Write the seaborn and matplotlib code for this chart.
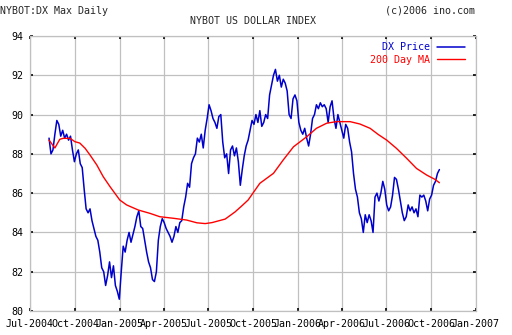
import numpy as np
import pandas as pd
import matplotlib
matplotlib.use("Agg")
import matplotlib.pyplot as plt
import matplotlib.dates as mdates
import seaborn as sns

# ---- data ----
price_start = "2004-08-09"
price = [
    88.8, 88.0, 88.2, 89.0, 89.7, 89.5, 88.9, 89.2, 88.8, 89.0,
    88.7, 88.9, 88.2, 87.6, 88.0, 88.2, 87.5, 87.3, 86.2, 85.2,
    85.0, 85.2, 84.6, 84.2, 83.8, 83.6, 83.0, 82.2, 82.0, 81.3,
    81.8, 82.5, 81.7, 82.3, 81.3, 81.0, 80.6, 82.0, 83.3, 83.0,
    83.6, 84.0, 83.5, 83.9, 84.3, 84.8, 85.1, 84.3, 84.2, 83.6,
    83.0, 82.5, 82.2, 81.6, 81.5, 82.0, 83.6, 84.3, 84.7, 84.5,
    84.2, 84.0, 83.8, 83.5, 83.8, 84.3, 84.0, 84.5, 84.6, 85.3,
    85.8, 86.5, 86.3, 87.5, 87.8, 88.0, 88.8, 88.6, 89.0, 88.3,
    89.2, 89.8, 90.5, 90.2, 89.8, 89.6, 89.3, 89.9, 90.0, 88.6,
    87.8, 88.0, 87.0, 88.2, 88.4, 87.9, 88.3, 87.6, 86.4, 87.2,
    87.9, 88.4, 88.7, 89.2, 89.7, 89.5, 90.0, 89.6, 90.2, 89.4,
    89.6, 90.0, 89.8, 91.0, 91.5, 92.0, 92.3, 91.7, 92.0, 91.4,
    91.8, 91.6, 91.2, 90.0, 89.8, 90.8, 91.0, 90.7, 89.6, 89.2,
    89.0, 89.3, 88.8, 88.4, 89.0, 89.8, 90.0, 90.5, 90.3, 90.6,
    90.4, 90.5, 90.3, 89.6, 90.4, 90.7, 89.8, 89.3, 90.0, 89.6,
    89.2, 88.8, 89.5, 89.3, 88.6, 88.1, 87.0, 86.2, 85.8, 85.0,
    84.7, 84.0, 84.9, 84.5, 84.9, 84.6, 84.0, 85.8, 86.0, 85.6,
    86.0, 86.6, 86.2, 85.4, 85.1, 85.3, 85.9, 86.8, 86.7, 86.2,
    85.6, 85.0, 84.6, 84.8, 85.4, 85.1, 85.3, 85.0, 85.2, 84.8,
    85.9, 85.8, 85.9, 85.6, 85.1, 85.7, 85.9, 86.4, 86.6, 87.0,
    87.2,
]

ma_dates = [
    "2004-08-09", "2004-08-21", "2004-08-31", "2004-09-07", "2004-09-21",
    "2004-10-01", "2004-10-11", "2004-10-22", "2004-11-01", "2004-11-15",
    "2004-11-28", "2004-12-12", "2005-01-01", "2005-01-15", "2005-02-08",
    "2005-03-04", "2005-03-24", "2005-04-21", "2005-05-18", "2005-06-08",
    "2005-06-25", "2005-07-09", "2005-08-05", "2005-08-25", "2005-09-08",
    "2005-09-21", "2005-10-15", "2005-11-12", "2005-12-02", "2005-12-23",
    "2006-01-19", "2006-02-08", "2006-03-01", "2006-03-21", "2006-04-18",
    "2006-05-08", "2006-05-29", "2006-06-15", "2006-07-02", "2006-07-22",
    "2006-08-12", "2006-09-01", "2006-09-22", "2006-10-09", "2006-10-18",
]
ma_values = [
    88.70, 88.30, 88.74, 88.79, 88.79,
    88.62, 88.55, 88.28, 87.94, 87.43,
    86.84, 86.33, 85.65, 85.40, 85.14,
    84.97, 84.80, 84.72, 84.63, 84.49,
    84.45, 84.50, 84.68, 85.04, 85.35,
    85.65, 86.50, 87.01, 87.69, 88.36,
    88.87, 89.30, 89.56, 89.64, 89.64,
    89.52, 89.30, 88.98, 88.70, 88.28,
    87.77, 87.26, 86.92, 86.70, 86.53,
]

series_names = ["DX Price", "200 Day MA"]
series_colors = ["#0000cc", "#ff0000"]
y_ticks = [80, 82, 84, 86, 88, 90, 92, 94]
title = "NYBOT US DOLLAR INDEX"
left_note = "NYBOT:DX Max Daily"
right_note = "(c)2006 ino.com"

# ---- frames ----
df_price = pd.DataFrame({
    "date": pd.date_range(price_start, periods=len(price), freq="4D"),
    "value": price,
})
df_ma = pd.DataFrame({"date": pd.to_datetime(ma_dates), "value": ma_values})

# ---- style ----
sns.set_style("white")
mono = ["DejaVu Sans Mono"]
plt.rcParams["font.family"] = mono
fs = 7.2

fig = plt.figure(figsize=(5.12, 3.35), dpi=100)
ax = fig.add_axes([30 / 512, 24 / 335, 446 / 512, 275 / 335])

sns.lineplot(data=df_price, x="date", y="value", ax=ax, color=series_colors[0],
             linewidth=1.1, label=series_names[0])
sns.lineplot(data=df_ma, x="date", y="value", ax=ax, color=series_colors[1],
             linewidth=1.0, label=series_names[1])

ax.set_xlim(pd.Timestamp("2004-07-01"), pd.Timestamp("2007-01-01"))
ax.set_ylim(80, 94)
ax.set_yticks(y_ticks)
ax.xaxis.set_major_locator(mdates.MonthLocator(bymonth=[1, 4, 7, 10]))
ax.xaxis.set_major_formatter(mdates.DateFormatter("%b-%Y"))
ax.set_xlabel("")
ax.set_ylabel("")

ax.grid(True, color="#c0c0c0", linewidth=0.9)
for s in ax.spines.values():
    s.set_color("#c0c0c0")
    s.set_linewidth(0.9)
ax.tick_params(axis="both", which="both", direction="in", length=2.5, width=1.2,
               color="black", labelsize=fs, labelcolor="black",
               top=True, right=True, bottom=True, left=True)
ax.tick_params(axis="y", pad=5)
ax.tick_params(axis="x", pad=6)

leg = ax.legend(loc="upper right", bbox_to_anchor=(0.975, 0.977), frameon=False,
                markerfirst=False, labelcolor="linecolor", fontsize=fs,
                handlelength=2.8, handletextpad=0.7, labelspacing=0.25,
                borderpad=0, borderaxespad=0)

fig.text(0, 1 - 10.5 / 335, left_note, fontsize=fs, ha="left", va="center")
fig.text(475 / 512, 1 - 10.5 / 335, right_note, fontsize=fs, ha="right", va="center")
fig.text(253 / 512, 1 - 20.5 / 335, title, fontsize=fs, ha="center", va="center")

fig.savefig("out.png", dpi=100)
